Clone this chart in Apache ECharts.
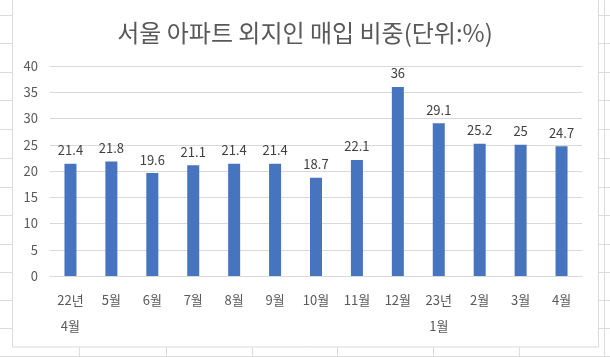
<!DOCTYPE html>
<html>
<head>
<meta charset="utf-8">
<script src="https://cdn.jsdelivr.net/npm/echarts@6/dist/echarts.min.js"></script>
<style>
html,body{margin:0;padding:0;background:#fff;}
#c{width:610px;height:357px;}
</style>
</head>
<body>
<div id="c"></div>
<script>
const categories = ['22년\n4월','5월','6월','7월','8월','9월','10월','11월','12월','23년\n1월','2월','3월','4월'];
const values = [21.4, 21.8, 19.6, 21.1, 21.4, 21.4, 18.7, 22.1, 36, 29.1, 25.2, 25, 24.7];
const yTicks = {min: 0, max: 40, interval: 5};
const titleText = '서울 아파트 외지인 매입 비중(단위:%)';

const cellRows = [15, 43, 72, 100, 129, 158, 187, 215, 244, 272, 300, 328, 356];
const cellColsBottom = [79, 166, 252, 337, 433, 519];

const cellLine = '#dcdcdc';
const graphics = [];
// spreadsheet cell lines (background decoration)
cellRows.forEach(y => {
  graphics.push({type:'line', z:-20, shape:{x1:0,y1:y+0.5,x2:12,y2:y+0.5}, style:{stroke:cellLine,lineWidth:1}});
  graphics.push({type:'line', z:-20, shape:{x1:599,y1:y+0.5,x2:610,y2:y+0.5}, style:{stroke:cellLine,lineWidth:1}});
});
graphics.push({type:'line', z:-20, shape:{x1:0,y1:356.5,x2:610,y2:356.5}, style:{stroke:cellLine,lineWidth:1}});
cellColsBottom.forEach(x => {
  graphics.push({type:'line', z:-20, shape:{x1:x+0.5,y1:347,x2:x+0.5,y2:357}, style:{stroke:cellLine,lineWidth:1}});
});
graphics.push({type:'line', z:-20, shape:{x1:604.5,y1:0,x2:604.5,y2:357}, style:{stroke:cellLine,lineWidth:1}});
// chart area box
graphics.push({type:'rect', z:-10, shape:{x:12.5,y:-5,width:586,height:352}, style:{fill:'#ffffff',stroke:'#d9d9d9',lineWidth:1}});

const chart = echarts.init(document.getElementById('c'), null, {renderer:'canvas'});
chart.setOption({
  animation:false,
  backgroundColor:'#ffffff',
  graphic: graphics,
  title:{
    text:titleText,
    left:'center',
    top:16,
    textStyle:{fontFamily:'Noto Sans CJK KR', fontSize:24, fontWeight:'normal', color:'#595959'}
  },
  grid:{left:50, right:28, top:66, bottom:81, containLabel:false},
  xAxis:{
    type:'category',
    data:categories,
    boundaryGap:true,
    axisLine:{show:true, lineStyle:{color:'#d9d9d9'}},
    axisTick:{show:false},
    axisLabel:{fontFamily:'Noto Sans CJK KR', fontSize:13, color:'#595959', lineHeight:26, margin:11, interval:0}
  },
  yAxis:{
    type:'value',
    min:yTicks.min, max:yTicks.max, interval:yTicks.interval,
    axisLine:{show:false},
    axisTick:{show:false},
    splitLine:{lineStyle:{color:'#d9d9d9'}},
    axisLabel:{fontFamily:'Noto Sans CJK KR', fontSize:13, color:'#595959', margin:12}
  },
  series:[{
    type:'bar',
    data:values,
    barWidth:12,
    itemStyle:{color:'#4674BE'},
    label:{show:true, position:'top', distance:7, fontFamily:'Noto Sans CJK KR', fontSize:13, color:'#404040'}
  }]
});
</script>
</body>
</html>
